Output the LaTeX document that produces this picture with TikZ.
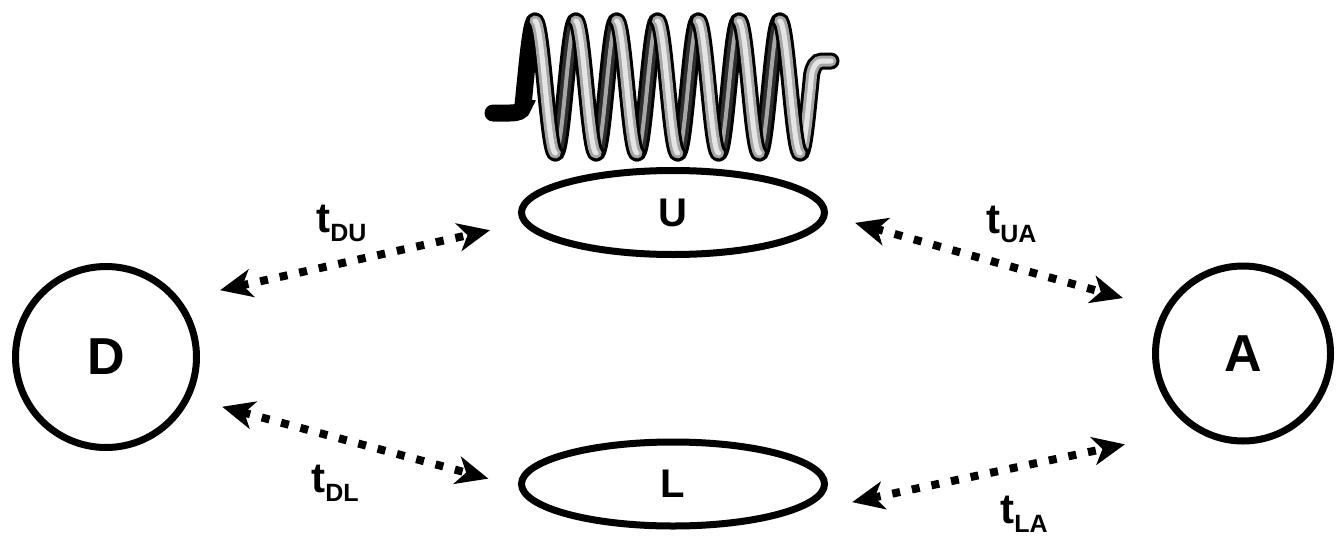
\documentclass[tikz,border=0pt]{standalone}
\usepackage{fontspec}
\setmainfont{Liberation Sans}
\usetikzlibrary{arrows.meta,shapes.geometric}

\tikzset{
  site/.style={circle, draw, line width=3.5pt, inner sep=0pt, font=\fontsize{26}{28}\selectfont\bfseries},
  band/.style={ellipse, draw, line width=3.5pt, inner sep=0pt, minimum width=151.5pt, minimum height=42pt, font=\fontsize{20}{22}\selectfont\bfseries},
  hop/.style={line width=4pt, dash pattern=on 4pt off 6pt,
    {Stealth[length=16pt,width=14pt,inset=4.5pt]}-{Stealth[length=16pt,width=14pt,inset=4.5pt]}},
  rate/.style={anchor=base west, inner sep=0pt, font=\fontsize{21}{23}\selectfont\bfseries},
  backwire/.style={line width=8.5pt, black, line cap=round,
    postaction={draw, line cap=round, line width=5.5pt, gray!35!black},
    postaction={draw, line cap=round, line width=2pt, gray!70}},
  frontwire/.style={line width=8.5pt, black, line cap=round,
    postaction={draw, line cap=round, line width=5.5pt, gray!70},
    postaction={draw, line cap=round, line width=2.5pt, gray!20}}
}
\newcommand{\rt}[1]{t\raisebox{-4.5pt}{\fontsize{12.5}{14}\selectfont #1}}

\begin{document}
\begin{tikzpicture}[x=0.5pt,y=0.5pt]
    \useasboundingbox (0,0) rectangle (1337,537);

    % sites
    \node[site, minimum size=90.5pt] (D) at (106,180) {D};
    \node[site, minimum size=87.5pt] (A) at (1243,183.5) {A};
    \node[band] (U) at (673,324.5) {U};
    \node[band] (L) at (673,53) {L};

    % hopping paths
    \draw[hop, shorten <=20.5pt, shorten >=16.5pt] (D.38) -- (U.184);
    \draw[hop, shorten <=16.4pt, shorten >=15.5pt] (D.-26) -- (L.181);
    \draw[hop, shorten <=14.2pt, shorten >=21pt] (U.-1) -- (A.151);
    \draw[hop, shorten <=45pt, shorten >=35pt] (L.-22) -- (A.237);

    \node[rate] (tDU) at (316,305) {\rt{DU}};
    \node[rate] (tDL) at (311,45) {\rt{DL}};
    \node[rate] (tUA) at (986,304) {\rt{UA}};
    \node[rate] (tLA) at (1000,14) {\rt{LA}};

    % coil above U: back halves first, then the front halves
    \draw[line width=8.5pt, line cap=round] (493,424) -- (510,424) .. controls (518,424) and (522,426) .. (522.8,429.6)
        -- plot[domain=-0.3:0, samples=12] ({535+40.8*\x},{450+66*cos(360*\x)});
    \foreach \k [evaluate=\k as \a using \k+0.5, evaluate=\k as \b using \k+1] in {0,...,5}
        \draw[backwire] plot[domain=\a:\b, samples=24] ({535+40.8*\x},{450+66*cos(360*\x)});
    \draw[frontwire] plot[domain=6.5:6.78, samples=12] ({535+40.8*\x},{450+66*cos(360*\x)})
        .. controls (813,470) and (816,476) .. (822,476) -- (831,476);
    \foreach \k [evaluate=\k as \b using \k+0.5] in {0,...,6}
        \draw[frontwire] plot[domain=\k:\b, samples=24] ({535+40.8*\x},{450+66*cos(360*\x)});
\end{tikzpicture}
\end{document}
